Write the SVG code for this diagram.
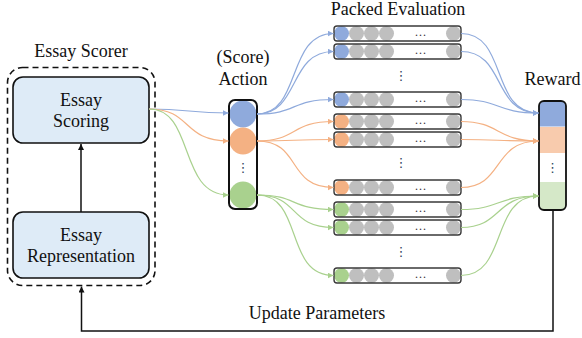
<svg xmlns="http://www.w3.org/2000/svg" width="582" height="338" viewBox="0 0 582 338">
<style>
text{font-family:"Liberation Serif","Times New Roman",serif;fill:#111}
.lbl{font-size:18px;text-anchor:middle}
.box{fill:#DEEBF7;stroke:#111;stroke-width:1.6}
.dash{fill:none;stroke:#111;stroke-width:1.6;stroke-dasharray:6 4}
.barbg{fill:#fff}
.bar{fill:none;stroke:#3a3a3a;stroke-width:1.4}
.g{fill:#BFBFBF}
.cb{fill:#8FAADC}.co{fill:#F4B183}.cg{fill:#A9D18E}
.hd{font-size:12px;text-anchor:middle;fill:#333;letter-spacing:1px}
.vd{font-family:"DejaVu Sans",sans-serif;font-size:13px;text-anchor:middle;fill:#2F4460}
.lb{fill:none;stroke:#8FAADC;stroke-width:1.2}
.lo{fill:none;stroke:#F4B183;stroke-width:1.2}
.lg{fill:none;stroke:#A9D18E;stroke-width:1.2}
.lk{fill:none;stroke:#111;stroke-width:1.5}
</style>
<defs>
<clipPath id="barclip"><rect x="0" y="0" width="127" height="15" rx="3"/></clipPath>
<clipPath id="rwclip"><rect x="539" y="101" width="27" height="109" rx="5"/></clipPath>
<clipPath id="acclip"><rect x="229" y="100" width="28" height="109" rx="6"/></clipPath>
<marker id="ab" viewBox="0 0 10 10" refX="10" refY="5" markerWidth="6" markerHeight="6" markerUnits="userSpaceOnUse" orient="auto"><path d="M0,0L10,5L0,10z" fill="#8FAADC"/></marker>
<marker id="ao" viewBox="0 0 10 10" refX="10" refY="5" markerWidth="6" markerHeight="6" markerUnits="userSpaceOnUse" orient="auto"><path d="M0,0L10,5L0,10z" fill="#F4B183"/></marker>
<marker id="ag" viewBox="0 0 10 10" refX="10" refY="5" markerWidth="6" markerHeight="6" markerUnits="userSpaceOnUse" orient="auto"><path d="M0,0L10,5L0,10z" fill="#A9D18E"/></marker>
<marker id="ak" viewBox="0 0 10 10" refX="10" refY="5" markerWidth="6" markerHeight="6" markerUnits="userSpaceOnUse" orient="auto"><path d="M0,0L10,5L0,10z" fill="#111"/></marker>
</defs>
<rect width="582" height="338" fill="#fff"/>

<g id="essay-scorer">
<rect class="dash" x="7.5" y="67.5" width="147.5" height="218" rx="15"/>
<text class="lbl" x="81" y="57">Essay Scorer</text>
</g>
<g id="essay-scoring">
<rect class="box" x="13" y="77" width="136" height="66" rx="10"/>
<text class="lbl" x="81" y="106">Essay</text>
<text class="lbl" x="81" y="127">Scoring</text>
</g>
<g id="essay-representation">
<rect class="box" x="13" y="212" width="136" height="66" rx="10"/>
<text class="lbl" x="81" y="241">Essay</text>
<text class="lbl" x="81" y="262">Representation</text>
</g>

<g id="action">
<text class="lbl" x="243" y="63">(Score)</text>
<text class="lbl" x="243" y="85">Action</text>
<rect x="229" y="100" width="28" height="109" rx="6" fill="#fff"/>
<g clip-path="url(#acclip)">
<circle class="cb" cx="243" cy="114" r="13.5"/>
<circle class="co" cx="243" cy="141" r="13.5"/>
<circle class="cg" cx="243" cy="195" r="13.5"/>
</g>
<text class="vd" x="243" y="172">⋮</text>
<rect x="229" y="100" width="28" height="109" rx="6" fill="none" stroke="#111" stroke-width="2"/>
</g>

<g id="packed-evaluation">
<text class="lbl" x="398" y="15">Packed Evaluation</text>
<g id="bar-b1" transform="translate(334,26)"><rect class="barbg" width="127" height="15" rx="3"/><g clip-path="url(#barclip)"><circle class="cb" cx="7.5" cy="7.5" r="7.5"/><circle class="g" cx="22.5" cy="7.5" r="7.5"/><circle class="g" cx="37.5" cy="7.5" r="7.5"/><circle class="g" cx="52.5" cy="7.5" r="7.5"/><circle class="g" cx="119.5" cy="7.5" r="7.5"/></g><text class="hd" x="87" y="10">...</text><rect class="bar" width="127" height="15" rx="3"/></g>
<g id="bar-b2" transform="translate(334,44)"><rect class="barbg" width="127" height="15" rx="3"/><g clip-path="url(#barclip)"><circle class="cb" cx="7.5" cy="7.5" r="7.5"/><circle class="g" cx="22.5" cy="7.5" r="7.5"/><circle class="g" cx="37.5" cy="7.5" r="7.5"/><circle class="g" cx="52.5" cy="7.5" r="7.5"/><circle class="g" cx="119.5" cy="7.5" r="7.5"/></g><text class="hd" x="87" y="10">...</text><rect class="bar" width="127" height="15" rx="3"/></g>
<text class="vd" x="401" y="80">⋮</text>
<g id="bar-b3" transform="translate(334,92)"><rect class="barbg" width="127" height="15" rx="3"/><g clip-path="url(#barclip)"><circle class="cb" cx="7.5" cy="7.5" r="7.5"/><circle class="g" cx="22.5" cy="7.5" r="7.5"/><circle class="g" cx="37.5" cy="7.5" r="7.5"/><circle class="g" cx="52.5" cy="7.5" r="7.5"/><circle class="g" cx="119.5" cy="7.5" r="7.5"/></g><text class="hd" x="87" y="10">...</text><rect class="bar" width="127" height="15" rx="3"/></g>
<g id="bar-o1" transform="translate(334,114)"><rect class="barbg" width="127" height="15" rx="3"/><g clip-path="url(#barclip)"><circle class="co" cx="7.5" cy="7.5" r="7.5"/><circle class="g" cx="22.5" cy="7.5" r="7.5"/><circle class="g" cx="37.5" cy="7.5" r="7.5"/><circle class="g" cx="52.5" cy="7.5" r="7.5"/><circle class="g" cx="119.5" cy="7.5" r="7.5"/></g><text class="hd" x="87" y="10">...</text><rect class="bar" width="127" height="15" rx="3"/></g>
<g id="bar-o2" transform="translate(334,132)"><rect class="barbg" width="127" height="15" rx="3"/><g clip-path="url(#barclip)"><circle class="co" cx="7.5" cy="7.5" r="7.5"/><circle class="g" cx="22.5" cy="7.5" r="7.5"/><circle class="g" cx="37.5" cy="7.5" r="7.5"/><circle class="g" cx="52.5" cy="7.5" r="7.5"/><circle class="g" cx="119.5" cy="7.5" r="7.5"/></g><text class="hd" x="87" y="10">...</text><rect class="bar" width="127" height="15" rx="3"/></g>
<text class="vd" x="401" y="167">⋮</text>
<g id="bar-o3" transform="translate(334,180)"><rect class="barbg" width="127" height="15" rx="3"/><g clip-path="url(#barclip)"><circle class="co" cx="7.5" cy="7.5" r="7.5"/><circle class="g" cx="22.5" cy="7.5" r="7.5"/><circle class="g" cx="37.5" cy="7.5" r="7.5"/><circle class="g" cx="52.5" cy="7.5" r="7.5"/><circle class="g" cx="119.5" cy="7.5" r="7.5"/></g><text class="hd" x="87" y="10">...</text><rect class="bar" width="127" height="15" rx="3"/></g>
<g id="bar-g1" transform="translate(334,202)"><rect class="barbg" width="127" height="15" rx="3"/><g clip-path="url(#barclip)"><circle class="cg" cx="7.5" cy="7.5" r="7.5"/><circle class="g" cx="22.5" cy="7.5" r="7.5"/><circle class="g" cx="37.5" cy="7.5" r="7.5"/><circle class="g" cx="52.5" cy="7.5" r="7.5"/><circle class="g" cx="119.5" cy="7.5" r="7.5"/></g><text class="hd" x="87" y="10">...</text><rect class="bar" width="127" height="15" rx="3"/></g>
<g id="bar-g2" transform="translate(334,220)"><rect class="barbg" width="127" height="15" rx="3"/><g clip-path="url(#barclip)"><circle class="cg" cx="7.5" cy="7.5" r="7.5"/><circle class="g" cx="22.5" cy="7.5" r="7.5"/><circle class="g" cx="37.5" cy="7.5" r="7.5"/><circle class="g" cx="52.5" cy="7.5" r="7.5"/><circle class="g" cx="119.5" cy="7.5" r="7.5"/></g><text class="hd" x="87" y="10">...</text><rect class="bar" width="127" height="15" rx="3"/></g>
<text class="vd" x="401" y="256">⋮</text>
<g id="bar-g3" transform="translate(334,268)"><rect class="barbg" width="127" height="15" rx="3"/><g clip-path="url(#barclip)"><circle class="cg" cx="7.5" cy="7.5" r="7.5"/><circle class="g" cx="22.5" cy="7.5" r="7.5"/><circle class="g" cx="37.5" cy="7.5" r="7.5"/><circle class="g" cx="52.5" cy="7.5" r="7.5"/><circle class="g" cx="119.5" cy="7.5" r="7.5"/></g><text class="hd" x="87" y="10">...</text><rect class="bar" width="127" height="15" rx="3"/></g>
</g>

<g id="reward">
<text class="lbl" x="552.5" y="85">Reward</text>
<rect x="539" y="101" width="27" height="109" rx="5" fill="#fff"/>
<g clip-path="url(#rwclip)">
<rect x="539" y="101" width="27" height="25.5" fill="#8FAADC"/>
<rect x="539" y="127" width="27" height="26" fill="#F8CBAD"/>
<rect x="539" y="182" width="27" height="28" fill="#D5E8C8"/>
</g>
<text class="vd" x="552.5" y="172">⋮</text>
<rect x="539" y="101" width="27" height="109" rx="5" fill="none" stroke="#111" stroke-width="1.8"/>
</g>

<g id="update-label">
<text class="lbl" x="317" y="319">Update Parameters</text>
</g>

<g id="connectors">
<path class="lk" d="M81,212 V144" marker-end="url(#ak)"/>
<path class="lk" d="M553,210 V331 H81.5 V286.5" marker-end="url(#ak)"/>

<path class="lb" d="M149,109 C189,109 189,113 228.5,113" marker-end="url(#ab)"/>
<path class="lo" d="M149,109 C192,109 182,141 228.5,141" marker-end="url(#ao)"/>
<path class="lg" d="M149,109 C195,109 178,195 228.5,195" marker-end="url(#ag)"/>

<path class="lb" d="M257,114 C302,114 286,33.5 333.5,33.5" marker-end="url(#ab)"/>
<path class="lb" d="M257,114 C300,114 288,51.5 333.5,51.5" marker-end="url(#ab)"/>
<path class="lb" d="M257,114 C298,114 290,99.5 333.5,99.5" marker-end="url(#ab)"/>
<path class="lo" d="M257,141 C298,141 290,121.5 333.5,121.5" marker-end="url(#ao)"/>
<path class="lo" d="M257,141 C298,141 290,139.5 333.5,139.5" marker-end="url(#ao)"/>
<path class="lo" d="M257,141 C302,141 286,187.5 333.5,187.5" marker-end="url(#ao)"/>
<path class="lg" d="M257,195 C298,195 290,209.5 333.5,209.5" marker-end="url(#ag)"/>
<path class="lg" d="M257,195 C300,195 288,227.5 333.5,227.5" marker-end="url(#ag)"/>
<path class="lg" d="M257,195 C304,195 284,275.5 333.5,275.5" marker-end="url(#ag)"/>

<path class="lb" d="M461,33.5 C508,33.5 490,113 538.5,113" marker-end="url(#ab)"/>
<path class="lb" d="M461,51.5 C506,51.5 492,113 538.5,113" marker-end="url(#ab)"/>
<path class="lb" d="M461,99.5 C500,99.5 496,113 538.5,113" marker-end="url(#ab)"/>
<path class="lo" d="M461,121.5 C500,121.5 496,141 538.5,141" marker-end="url(#ao)"/>
<path class="lo" d="M461,139.5 C500,139.5 496,141 538.5,141" marker-end="url(#ao)"/>
<path class="lo" d="M461,187.5 C504,187.5 492,141 538.5,141" marker-end="url(#ao)"/>
<path class="lg" d="M461,209.5 C500,209.5 496,196 538.5,196" marker-end="url(#ag)"/>
<path class="lg" d="M461,227.5 C502,227.5 494,196 538.5,196" marker-end="url(#ag)"/>
<path class="lg" d="M461,275.5 C508,275.5 490,196 538.5,196" marker-end="url(#ag)"/>
</g>
</svg>
